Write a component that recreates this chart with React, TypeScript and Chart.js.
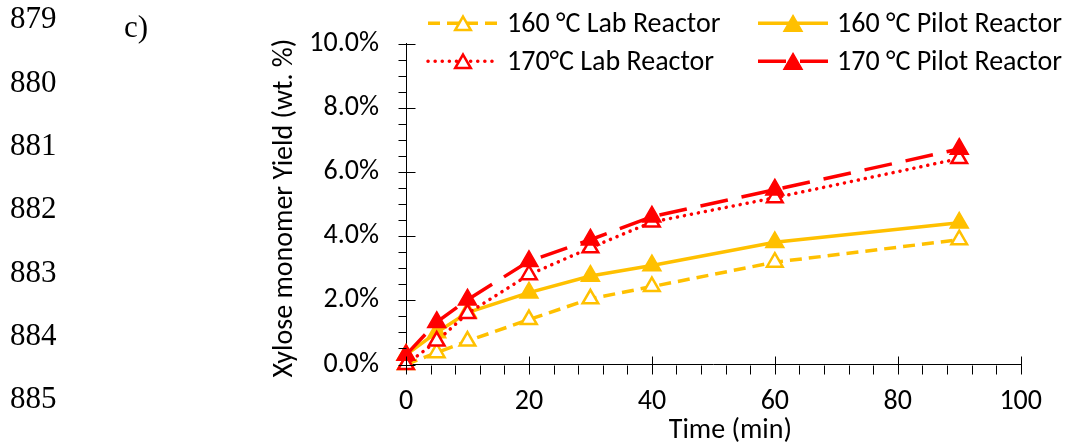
import React, { useEffect, useRef } from "react";
import { Chart, registerables } from "chart.js";

Chart.register(...registerables);

// ---------- data ----------
const times = [0, 5, 10, 20, 30, 40, 60, 90];
const lab160 = [0, 0.37, 0.73, 1.4, 2.05, 2.43, 3.19, 3.89];
const pilot160 = [0.3, 1.0, 1.62, 2.24, 2.76, 3.09, 3.81, 4.42];
const lab170 = [0, 0.73, 1.59, 2.8, 3.64, 4.44, 5.2, 6.42];
const pilot170 = [0.3, 1.32, 2.02, 3.22, 3.89, 4.61, 5.45, 6.72];

const seriesLabels = [
  "160 °C Lab Reactor",
  "160 °C Pilot Reactor",
  "170°C Lab Reactor",
  "170 °C Pilot Reactor",
];

const yTitle = "Xylose monomer Yield (wt. %)";
const xTitle = "Time (min)";
const lineNumbers = ["879", "880", "881", "882", "883", "884", "885"];
const panelLabel = "c)";

const xMin = 0;
const xMax = 100;
const xMajorStep = 20;
const xMinorStep = 4;
const yMin = 0;
const yMax = 10;
const yMajorStep = 2;
const yMinorStep = 0.5;

// ---------- styles ----------
const ORANGE = "#FFC000";
const RED = "#FF0000";
const SANS = "Carlito, Lato, 'Open Sans', sans-serif";
const SERIF = "'Liberation Serif', 'Times New Roman', serif";
const FONT_SIZE = 28;

const toPts = (ys: number[]) => times.map((t, i) => ({ x: t, y: ys[i] }));

function triPath(ctx: CanvasRenderingContext2D, x: number, y: number, r: number) {
  ctx.beginPath();
  ctx.moveTo(x, y - r);
  ctx.lineTo(x + r * 0.8660254, y + r / 2);
  ctx.lineTo(x - r * 0.8660254, y + r / 2);
  ctx.closePath();
}

function fillTextToWidth(ctx: any, text: string, x: number, y: number, target: number) {
  const w = ctx.measureText(text).width;
  const extra = (target - w) / Math.max(text.length - 1, 1);
  if ("letterSpacing" in ctx && extra > 0) {
    ctx.letterSpacing = `${extra.toFixed(2)}px`;
    ctx.fillText(text, x + extra / 2, y);
    ctx.letterSpacing = "0px";
  } else {
    ctx.fillText(text, x, y);
  }
}

const decorPlugin = {
  id: "decor",
  afterDraw(chart: any) {
    const ctx: CanvasRenderingContext2D = chart.ctx;
    const area = chart.chartArea;
    const xs = chart.scales.x;
    const ys = chart.scales.y;
    ctx.save();

    // tick marks
    ctx.strokeStyle = "#000";
    ctx.lineWidth = 1;
    ctx.beginPath();
    const ax = Math.round(area.left) + 0.5;
    for (let v = yMin; v <= yMax + 1e-9; v += yMinorStep) {
      const py = Math.round(ys.getPixelForValue(v)) + 0.5;
      const isMajor = Math.abs(v / yMajorStep - Math.round(v / yMajorStep)) < 1e-6;
      ctx.moveTo(ax - 8, py);
      ctx.lineTo(isMajor ? ax + 9 : ax, py);
    }
    const ay = Math.round(area.bottom) + 0.5;
    for (let v = xMin; v <= xMax + 1e-9; v += xMinorStep) {
      const px = Math.round(xs.getPixelForValue(v)) + 0.5;
      const isMajor = Math.abs(v / xMajorStep - Math.round(v / xMajorStep)) < 1e-6;
      ctx.moveTo(px, isMajor ? ay - 9 : ay);
      ctx.lineTo(px, ay + 9);
    }
    ctx.stroke();

    // axis titles
    ctx.fillStyle = "#000";
    ctx.font = `${FONT_SIZE}px ${SANS}`;
    ctx.textAlign = "center";
    ctx.textBaseline = "middle";
    ctx.fillText(xTitle, (area.left + area.right) / 2 + 17, area.bottom + 66);
    ctx.save();
    ctx.translate(area.left - 121, (area.top + area.bottom) / 2 + 4);
    ctx.rotate(-Math.PI / 2);
    fillTextToWidth(ctx, yTitle, 0, 0, 332);
    ctx.restore();

    // legend
    const colX = [area.left + 22, area.left + 352];
    const rowY = [area.top - 20.5, area.top + 17.5];
    const sampleLen = 70;
    const ds = chart.data.datasets;
    [0, 1, 2, 3].forEach((i) => {
      const d = ds[i];
      const col = i % 2;
      const row = Math.floor(i / 2);
      const x0 = colX[col];
      const y0 = rowY[row];
      ctx.save();
      ctx.strokeStyle = d.borderColor;
      ctx.lineWidth = d.borderWidth;
      ctx.lineCap = d.borderCapStyle || "butt";
      ctx.setLineDash(d.borderDash || []);
      ctx.beginPath();
      ctx.moveTo(x0, y0);
      ctx.lineTo(x0 + sampleLen, y0);
      ctx.stroke();
      ctx.setLineDash([]);
      const mx = x0 + sampleLen / 2;
      triPath(ctx, mx, y0 + d.pointRadius / 4, d.pointRadius);
      ctx.fillStyle = d.pointBackgroundColor;
      ctx.fill();
      ctx.lineWidth = d.pointBorderWidth;
      ctx.strokeStyle = d.pointBorderColor;
      ctx.stroke();
      ctx.restore();
      ctx.fillStyle = "#000";
      ctx.textAlign = "left";
      ctx.textBaseline = "middle";
      ctx.font = `${FONT_SIZE}px ${SANS}`;
      ctx.fillText(d.label, x0 + sampleLen + 9, y0 + 1.5);
    });

    // manuscript line numbers and panel label
    ctx.font = `31px ${SERIF}`;
    ctx.textAlign = "left";
    ctx.textBaseline = "alphabetic";
    lineNumbers.forEach((n, i) => {
      ctx.fillText(n, 10, 28.3 + i * 63.35);
    });
    ctx.fillText(panelLabel, 124, 37);

    ctx.restore();
  },
};

export default function App() {
  const ref = useRef<HTMLCanvasElement | null>(null);

  useEffect(() => {
    if (!ref.current) return;
    const tickFont = { family: SANS, size: FONT_SIZE };
    const chart = new Chart(ref.current, {
      type: "line",
      data: {
        datasets: [
          {
            label: seriesLabels[0],
            data: toPts(lab160),
            borderColor: ORANGE,
            borderWidth: 3.5,
            borderDash: [12, 7],
            pointStyle: "triangle",
            pointRadius: 9,
            pointBorderWidth: 2.5,
            pointBackgroundColor: "#FFFFFF",
            pointBorderColor: ORANGE,
            order: 4,
          },
          {
            label: seriesLabels[1],
            data: toPts(pilot160),
            borderColor: ORANGE,
            borderWidth: 3.5,
            borderDash: [],
            pointStyle: "triangle",
            pointRadius: 10.5,
            pointBorderWidth: 1.5,
            pointBackgroundColor: ORANGE,
            pointBorderColor: ORANGE,
            order: 3,
          },
          {
            label: seriesLabels[2],
            data: toPts(lab170),
            borderColor: RED,
            borderWidth: 3.5,
            borderDash: [0.1, 7],
            borderCapStyle: "round",
            pointStyle: "triangle",
            pointRadius: 9,
            pointBorderWidth: 2.5,
            pointBackgroundColor: "#FFFFFF",
            pointBorderColor: RED,
            order: 2,
          },
          {
            label: seriesLabels[3],
            data: toPts(pilot170),
            borderColor: RED,
            borderWidth: 3.5,
            borderDash: [28, 14],
            pointStyle: "triangle",
            pointRadius: 10.5,
            pointBorderWidth: 1.5,
            pointBackgroundColor: RED,
            pointBorderColor: RED,
            order: 1,
          },
        ] as any,
      },
      options: {
        responsive: false,
        animation: false,
        maintainAspectRatio: false,
        layout: { padding: { left: 0, top: 43.5, right: 54.3, bottom: 0 } },
        elements: { line: { tension: 0 } },
        datasets: { line: { clip: false } } as any,
        plugins: {
          legend: { display: false },
          tooltip: { enabled: false },
        },
        scales: {
          x: {
            type: "linear",
            min: xMin,
            max: xMax,
            afterFit: (s: any) => {
              s.height = 82.5;
            },
            ticks: {
              stepSize: xMajorStep,
              font: tickFont,
              color: "#000",
              padding: 21,
              maxRotation: 0,
            },
            grid: { display: true, drawOnChartArea: false, drawTicks: false },
            border: { display: true, color: "#000", width: 1 },
          },
          y: {
            type: "linear",
            min: yMin,
            max: yMax,
            afterFit: (s: any) => {
              s.width = 406;
            },
            ticks: {
              stepSize: yMajorStep,
              font: tickFont,
              color: "#000",
              padding: 27,
              callback: (v: any) => `${Number(v).toFixed(1)}%`,
            },
            grid: { display: true, drawOnChartArea: false, drawTicks: false },
            border: { display: true, color: "#000", width: 1 },
          },
        },
      },
      plugins: [decorPlugin],
    });
    return () => chart.destroy();
  }, []);

  return (
    <div style={{ position: "absolute", left: 0, top: 0, width: 1075, height: 447, background: "#fff" }}>
      <canvas ref={ref} width={1075} height={447} style={{ display: "block" }} />
    </div>
  );
}
